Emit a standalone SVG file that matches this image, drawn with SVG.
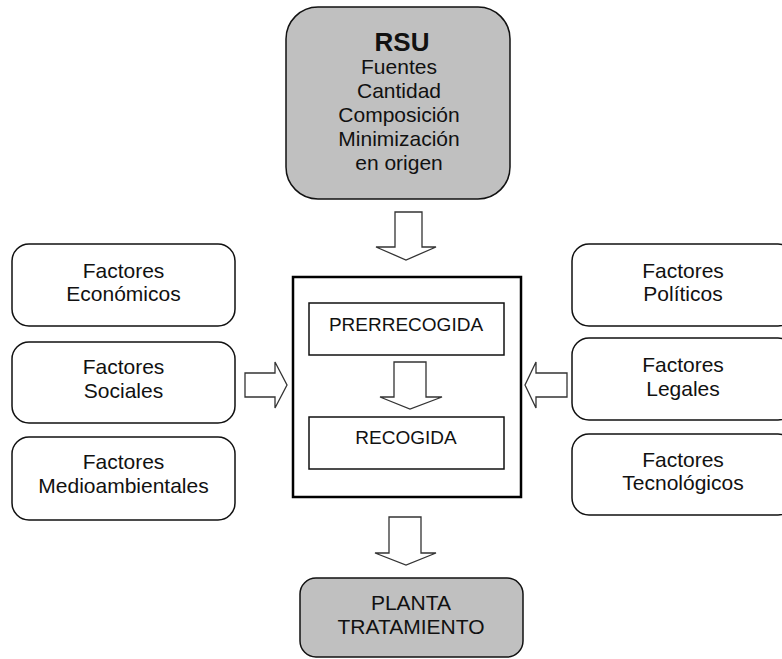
<svg xmlns="http://www.w3.org/2000/svg" width="782" height="659" viewBox="0 0 782 659">
<style>
.box{fill:#fff;stroke:#111;stroke-width:1.5}
.gray{fill:#c0c0c0;stroke:#111;stroke-width:1.5}
.main{fill:#fff;stroke:#000;stroke-width:2.5}
.arrow{fill:#fff;stroke:#333;stroke-width:1.3;stroke-linejoin:miter}
text{font-family:"Liberation Sans",Arial,sans-serif;font-size:21px;fill:#111;text-anchor:middle}
.t19{font-size:19px}
.bold{font-weight:bold;font-size:26px}
</style>
<rect width="782" height="659" fill="#fff"/>
<g id="rsu">
<rect class="gray" x="286" y="7" width="224" height="192" rx="32"/>
<text class="bold" x="402" y="51">RSU</text>
<text x="399" y="74">Fuentes</text>
<text x="399" y="98">Cantidad</text>
<text x="399" y="122">Composición</text>
<text x="399" y="146">Minimización</text>
<text x="399" y="170">en origen</text>
</g>
<g id="f-economicos">
<rect class="box" x="12" y="244" width="223" height="82" rx="17"/>
<text x="123.5" y="278">Factores</text>
<text x="123.5" y="301">Económicos</text>
</g>
<g id="f-sociales">
<rect class="box" x="12" y="342" width="223" height="81" rx="17"/>
<text x="123.5" y="374">Factores</text>
<text x="123.5" y="398">Sociales</text>
</g>
<g id="f-medio">
<rect class="box" x="12" y="437" width="223" height="83" rx="17"/>
<text x="123.5" y="469">Factores</text>
<text x="123.5" y="493">Medioambientales</text>
</g>
<g id="f-politicos">
<rect class="box" x="572" y="244" width="223" height="82" rx="17"/>
<text x="683" y="278">Factores</text>
<text x="683" y="301">Políticos</text>
</g>
<g id="f-legales">
<rect class="box" x="572" y="338" width="223" height="82" rx="17"/>
<text x="683" y="372">Factores</text>
<text x="683" y="396">Legales</text>
</g>
<g id="f-tecno">
<rect class="box" x="572" y="434" width="223" height="81" rx="17"/>
<text x="683" y="467">Factores</text>
<text x="683" y="490">Tecnológicos</text>
</g>
<g id="proceso">
<rect class="main" x="293" y="277" width="228" height="220"/>
</g>
<g id="prerrecogida">
<rect class="box" x="309" y="303" width="195" height="52"/>
<text class="t19" x="406" y="331">PRERRECOGIDA</text>
</g>
<g id="recogida">
<rect class="box" x="309" y="417" width="195" height="52"/>
<text class="t19" x="406" y="444">RECOGIDA</text>
</g>
<g id="planta">
<rect class="gray" x="300" y="578" width="223" height="79" rx="16"/>
<text x="411" y="610">PLANTA</text>
<text x="411" y="634">TRATAMIENTO</text>
</g>
<g id="connectors">
<polygon class="arrow" points="395,212 422,212 422,247 436,247 406,260 376,247 395,247"/>
<polygon class="arrow" points="245,373 275,373 275,362 287,385 275,408 275,397 245,397"/>
<polygon class="arrow" points="567,373 536,373 536,362 525,385 536,408 536,397 567,397"/>
<polygon class="arrow" points="394,362 426,362 426,397 442,397 410,409 380,397 394,397"/>
<polygon class="arrow" points="389,517 421,517 421,553 436,553 406,565 375,553 389,553"/>
</g>
</svg>
